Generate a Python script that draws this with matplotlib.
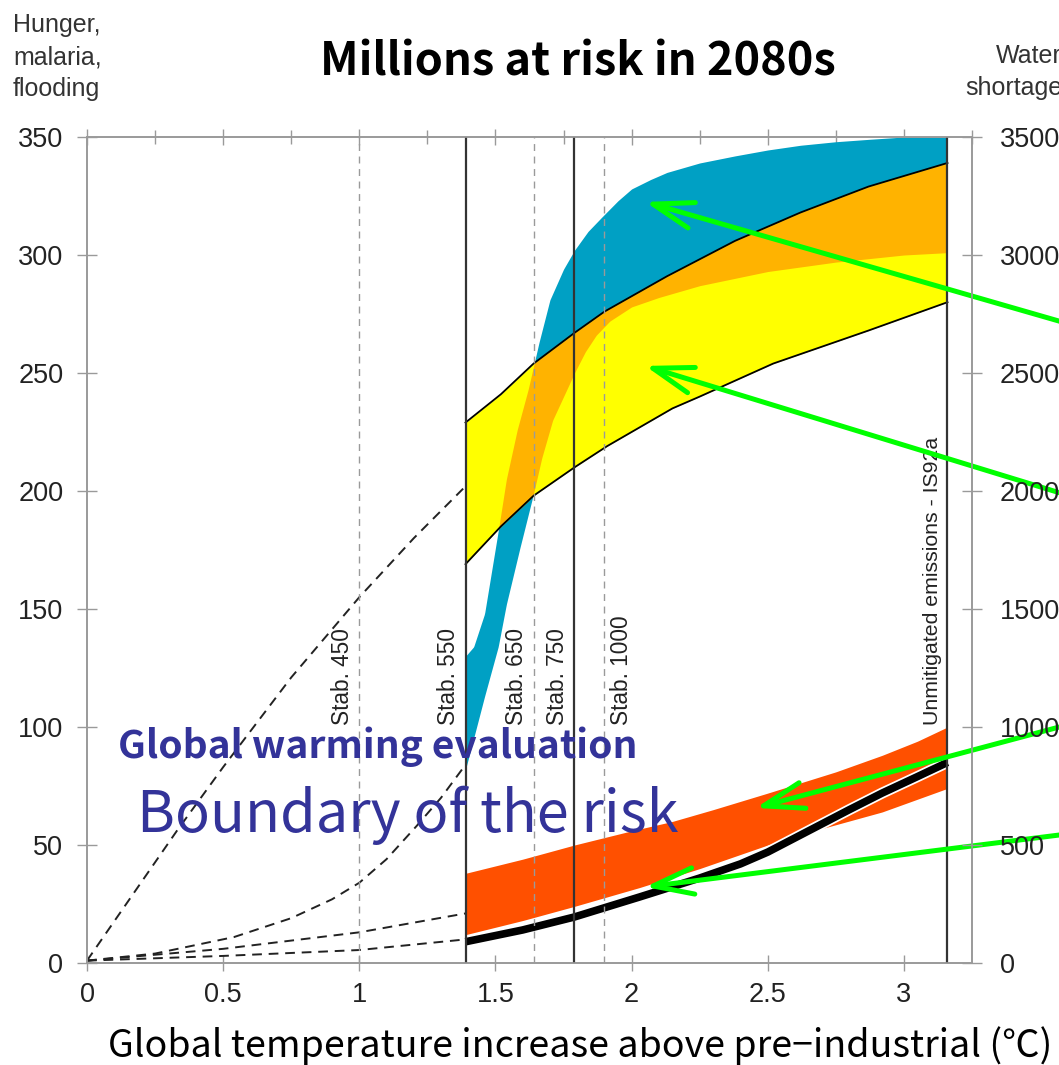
import numpy as np
import matplotlib
matplotlib.use("Agg")
import matplotlib.pyplot as plt
import matplotlib.patheffects as pe
from matplotlib.ticker import MultipleLocator

# ---- scenario markers (global temperature rise, °C) ----
stab_labels = ["Stab. 450", "Stab. 550", "Stab. 650", "Stab. 750", "Stab. 1000"]
stab_temps = [1.00, 1.39, 1.64, 1.79, 1.90]
stab_solid = [False, True, False, True, False]
stab_label_side = ["left", "left", "left", "left", "right"]
unmitigated_label = "Unmitigated emissions - IS92a"
unmitigated_temp = 3.16

# ---- cyan band (millions at risk) ----
cyan_hi_x = [1.39, 1.42, 1.46, 1.48, 1.51, 1.54, 1.58, 1.62, 1.66, 1.70, 1.75, 1.79,
             1.84, 1.89, 1.95, 2.00, 2.07, 2.13, 2.25, 2.38, 2.50, 2.62, 2.75, 2.87,
             3.00, 3.16]
cyan_hi_y = [130, 134, 148, 162, 183, 205, 226, 243, 263, 281, 294, 302,
             310, 316, 323, 328, 332, 335, 339, 342, 344.5, 346.5, 348, 349,
             350, 350]
cyan_lo_x = [1.39, 1.46, 1.51, 1.54, 1.59, 1.64, 1.67, 1.71, 1.75, 1.79, 1.83,
             1.87, 1.92, 2.00, 2.10, 2.25, 2.50, 2.75, 3.00, 3.16]
cyan_lo_y = [82, 113, 134, 152, 176, 199, 214, 230, 240, 250, 259,
             266, 272, 278, 282, 287, 293, 297, 300, 301]

# ---- outlined yellow band ----
yellow_hi_x = [1.39, 1.52, 1.64, 1.79, 1.90, 2.13, 2.38, 2.62, 2.87, 3.16]
yellow_hi_y = [229, 241, 254, 267, 276, 291, 306, 318, 329, 339]
yellow_lo_x = [1.39, 1.52, 1.64, 1.79, 1.91, 2.03, 2.15, 2.25, 2.52, 2.87, 3.16]
yellow_lo_y = [169, 185, 198, 210, 219, 227, 235, 240, 254, 268, 280]

# ---- red band and black line ----
red_hi_x = [1.39, 1.60, 1.79, 2.00, 2.15, 2.30, 2.50, 2.75, 2.92, 3.05, 3.16]
red_hi_y = [38, 44, 50, 56, 60, 65, 72, 81, 88, 94, 100]
red_lo_x = [1.39, 1.60, 1.79, 2.03, 2.25, 2.50, 2.70, 2.92, 3.16]
red_lo_y = [12, 18, 24, 32, 40, 50, 57, 64, 74]
black_x = [1.39, 1.60, 1.79, 2.03, 2.25, 2.40, 2.50, 2.60, 2.70, 2.80, 2.92, 3.05, 3.16]
black_y = [9, 14, 19.5, 28, 36, 42, 47, 53, 59, 65, 72, 79, 85]

# ---- dashed lead-in curves from the origin ----
dash_curves = [
    ([0, 0.33, 0.50, 0.75, 1.00, 1.20, 1.39], [1, 56, 83, 121, 155, 180, 202]),
    ([0, 0.25, 0.54, 0.75, 0.90, 1.00, 1.10, 1.21, 1.30, 1.39],
     [1, 4, 11, 19, 27, 34, 44, 58, 70, 84]),
    ([0, 0.50, 1.00, 1.39], [1, 6, 13, 21]),
    ([0, 0.50, 1.00, 1.39], [1, 3, 5.5, 10]),
]

# ---- green pointer arrows: tips and tails ----
arrow_tips_x = [2.05, 2.05, 2.456, 2.05]
arrow_tips_y = [322.5, 253, 65.7, 32.2]
arrow_tails_x = [3.72, 3.72, 3.72, 3.72]
arrow_tails_y = [267, 194, 104.6, 56.4]

left_ticks = [0, 50, 100, 150, 200, 250, 300, 350]
right_ticks = [0, 500, 1000, 1500, 2000, 2500, 3000, 3500]
x_ticks = [0, 0.5, 1, 1.5, 2, 2.5, 3]
x_tick_labels = ["0", "0.5", "1", "1.5", "2", "2.5", "3"]

left_title_lines = ["Hunger,", "malaria,", "flooding"]
right_title_lines = ["Water", "shortage"]

CYAN = "#00A0C4"
ORANGE = "#FFB300"
YELLOW = "#FFFF00"
RED = "#FF5000"
GREEN = "#00FF00"
NAVY = "#333399"
AXIS_GRAY = "#9a9a9a"
SANS = ["Liberation Sans", "DejaVu Sans"]
JP = ["Noto Sans CJK JP", "DejaVu Sans"]

plt.rcParams["font.family"] = SANS

W, H = 1059, 1065
fig = plt.figure(figsize=(W / 100, H / 100), dpi=100, facecolor="white")
ax = fig.add_axes([87 / W, 1 - 963 / H, (972 - 87) / W, (963 - 137) / H])
ax.set_xlim(0, 3.25)
ax.set_ylim(0, 350)


def fy(px):
    """Figure fraction from a pixel row measured from the top."""
    return 1 - px / H


# common grid for the filled bands
xg = np.linspace(1.39, unmitigated_temp, 800)
c_hi = np.interp(xg, cyan_hi_x, cyan_hi_y)
c_lo = np.interp(xg, cyan_lo_x, cyan_lo_y)
y_hi = np.interp(xg, yellow_hi_x, yellow_hi_y)
y_lo = np.interp(xg, yellow_lo_x, yellow_lo_y)

ax.fill_between(xg, c_lo, c_hi, color=CYAN, lw=0, zorder=2)
ax.fill_between(xg, y_lo, y_hi, color=YELLOW, lw=0, zorder=2.1)
ov_lo = np.maximum(c_lo, y_lo)
ov_hi = np.minimum(c_hi, y_hi)
ax.fill_between(xg, ov_lo, ov_hi, where=ov_hi > ov_lo, interpolate=True,
                color=ORANGE, lw=0, zorder=2.2)
ax.plot(yellow_hi_x, yellow_hi_y, color="black", lw=1.3, zorder=2.5)
ax.plot(yellow_lo_x, yellow_lo_y, color="black", lw=1.3, zorder=2.5)

xr = np.linspace(1.39, unmitigated_temp, 400)
ax.fill_between(xr, np.interp(xr, red_lo_x, red_lo_y), np.interp(xr, red_hi_x, red_hi_y),
                color=RED, lw=0, zorder=2.3)
ax.plot(black_x, black_y, color="black", lw=5.5, solid_capstyle="butt", zorder=2.6,
        path_effects=[pe.Stroke(linewidth=8, foreground="white"), pe.Normal()])

for xs, ys in dash_curves:
    ax.plot(xs, ys, color="#222222", lw=1.4, dashes=(5, 3.5), zorder=2.4)

# scenario lines and labels
for lab, t, solid, side in zip(stab_labels, stab_temps, stab_solid, stab_label_side):
    if solid:
        ax.axvline(t, color="#333333", lw=1.6, zorder=3)
    else:
        ax.axvline(t, color="#9a9a9a", lw=1.0, dashes=(5, 4), zorder=3)
    off = -4 if side == "left" else 4
    ax.annotate(lab, xy=(t, 101), xytext=(off, 0), textcoords="offset points",
                rotation=90, ha="right" if side == "left" else "left", va="bottom",
                fontsize=16.3, color="#222222", zorder=4)
ax.axvline(unmitigated_temp, color="#333333", lw=1.6, zorder=3)
ax.annotate(unmitigated_label, xy=(unmitigated_temp, 101), xytext=(-4, 0),
            textcoords="offset points", rotation=90, ha="right", va="bottom",
            fontsize=15.3, color="#222222", zorder=4)

# axes styling
for sp in ax.spines.values():
    sp.set_color(AXIS_GRAY)
    sp.set_linewidth(1.2)
ax.set_yticks(left_ticks)
ax.set_yticklabels([str(v) for v in left_ticks])
ax.set_xticks(x_ticks)
ax.set_xticklabels(x_tick_labels)
ax.xaxis.set_minor_locator(MultipleLocator(0.25))
ax.tick_params(axis="y", which="major", direction="inout", length=14, width=1,
               color=AXIS_GRAY, labelsize=19.5, labelcolor="#222222", pad=10)
ax.tick_params(axis="x", which="major", direction="inout", length=11, width=1,
               color=AXIS_GRAY, labelsize=19.5, labelcolor="#222222", pad=8,
               top=True, bottom=True)
ax.tick_params(axis="x", which="minor", direction="inout", length=10, width=1,
               color=AXIS_GRAY, top=True, bottom=False)

ax2 = ax.twinx()
ax2.set_ylim(0, 3500)
ax2.set_yticks(right_ticks)
ax2.set_yticklabels([str(v) for v in right_ticks])
for sp in ax2.spines.values():
    sp.set_color(AXIS_GRAY)
    sp.set_linewidth(1.2)
ax2.tick_params(axis="y", direction="inout", length=14, width=1, color=AXIS_GRAY,
                labelsize=19.5, labelcolor="#222222", pad=13)

# green pointers
for tx, ty, sx, sy in zip(arrow_tips_x, arrow_tips_y, arrow_tails_x, arrow_tails_y):
    ax.annotate("", xy=(tx, ty), xytext=(sx, sy), annotation_clip=False,
                arrowprops=dict(arrowstyle="->,head_length=2.9,head_width=0.95",
                                color=GREEN, lw=3.6, shrinkA=0, shrinkB=0,
                                mutation_scale=10, capstyle="round",
                                joinstyle="round"),
                zorder=6)

# axis captions above the plot
for line, base in zip(left_title_lines, [32, 64, 96]):
    fig.text(13 / W, fy(base), line, ha="left", va="baseline", fontsize=18,
             color="#333333")
for line, base in zip(right_title_lines, [63, 95]):
    fig.text(1062 / W, fy(base), line, ha="right", va="baseline", fontsize=18,
             color="#333333")

fig.text(578 / W, fy(76), "Millions at risk in 2080s", ha="center",
         va="baseline", fontsize=32.5, fontweight="bold", family=JP, color="black")
fig.text(118 / W, fy(758), "Global warming evaluation", ha="left",
         va="baseline", fontsize=28, fontweight="bold", family=JP, color=NAVY,
         zorder=5)
fig.text(137 / W, fy(832), "Boundary of the risk", ha="left",
         va="baseline", fontsize=41.5, family=JP, color=NAVY, zorder=5)
fig.text(580 / W, fy(1057),
         "Global temperature increase above pre\u2212industrial (\u2103)",
         ha="center", va="baseline", fontsize=27, family=JP, color="black")

fig.savefig("out.png", dpi=100, facecolor="white")
